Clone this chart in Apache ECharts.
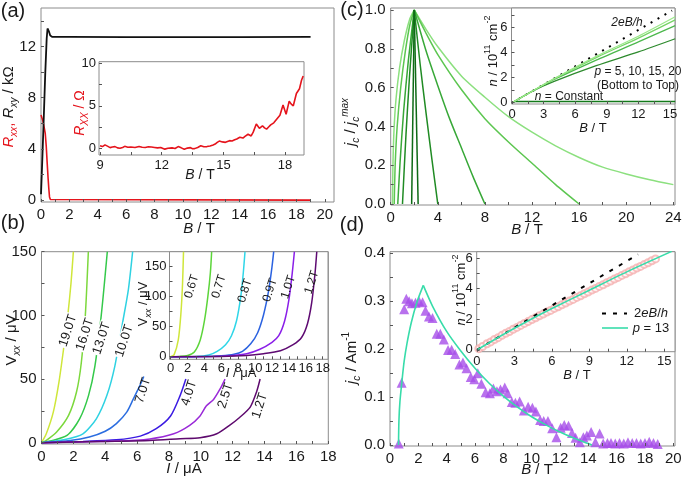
<!DOCTYPE html>
<html>
<head>
<meta charset="utf-8">
<script src="https://cdn.jsdelivr.net/npm/echarts@6.0.0/dist/echarts.min.js"></script>
<style>
html,body{margin:0;padding:0;background:#ffffff;}
#chart{width:685px;height:483px;}
</style>
</head>
<body>
<div id="chart"></div>
<script>
// ================= DATA =================
// (a) main: B (T) vs resistance (kOhm)
const aRxy = [[0.0,0.45],[0.1,3.4],[0.2,6.6],[0.3,9.9],[0.4,12.6],[0.46,13.4],[0.55,13.2],[0.65,12.85],[0.8,12.74],[2,12.74],[6,12.73],[10,12.72],[14,12.72],[19,12.74]];
const aRxx = [[0.0,6.65],[0.07,6.4],[0.14,6.15],[0.22,5.7],[0.3,5.2],[0.37,4.2],[0.43,3.0],[0.5,1.7],[0.55,0.9],[0.6,0.25],[0.66,0.05],[0.8,0.0],[19,0.0]];
// (a) inset: B (T) vs Rxx (Ohm)
const aInsetRxx = [[9.0,0.3],[9.12,0.2],[9.24,0.4],[9.36,0.25],[9.49,0.08],[9.6,0.15],[9.73,0.2],[9.85,0.05],[9.97,0.0],[10.1,0.1],[10.2,0.23],[10.35,0.12],[10.5,0.15],[10.7,0.1],[10.9,0.2],[11.05,0.12],[11.2,0.1],[11.35,0.18],[11.5,0.15],[11.65,0.1],[11.8,0.05],[11.95,0.1],[12.15,-0.1],[12.3,0.0],[12.5,0.05],[12.65,-0.02],[12.8,0.2],[12.95,0.05],[13.1,-0.12],[13.25,0.02],[13.4,0.08],[13.5,-0.05],[13.6,-0.04],[13.75,0.1],[13.9,0.3],[14.05,0.18],[14.2,0.2],[14.35,0.28],[14.5,0.4],[14.6,0.5],[14.7,0.7],[14.8,0.85],[14.95,0.75],[15.1,0.7],[15.2,0.8],[15.3,0.9],[15.42,0.85],[15.55,1.0],[15.65,1.1],[15.8,1.3],[15.95,1.2],[16.05,1.4],[16.2,1.65],[16.35,1.45],[16.45,1.9],[16.6,2.85],[16.75,2.35],[16.9,2.65],[17.0,2.4],[17.1,2.25],[17.2,2.5],[17.3,2.75],[17.45,3.0],[17.6,3.45],[17.75,3.9],[17.9,5.1],[18.05,4.0],[18.2,5.55],[18.3,5.2],[18.4,5.0],[18.55,6.45],[18.7,7.0],[18.8,8.0],[18.88,8.5]];

// (b) main: I (uA) vs Vxx (uV)
const bNames = ['19.0T','16.0T','13.0T','10.0T','7.0T','4.0T','2.5T','1.2T'];
const b19 = [[0,0],[0.3,7],[0.74,24],[1.1,48],[1.4,75],[1.65,100],[1.85,125],[2.0,150]];
const b16 = [[0,0],[0.35,2.3],[0.95,8.4],[1.7,21.5],[2.2,40],[2.5,63],[2.75,100],[2.94,150]];
const b13 = [[0,0],[0.55,1.3],[1.6,5.7],[2.4,19],[2.95,37],[3.35,60],[3.75,100],[4.13,150]];
const b10 = [[0,0],[1.4,2.3],[2.6,7],[3.45,19],[4.1,37],[4.6,60],[5.1,95],[5.45,120],[5.72,150]];
const b7 = [[0,0],[1.8,1.8],[3.0,4.5],[4.0,9],[4.7,15],[5.35,24],[5.75,34],[6.18,45],[6.42,52]];
const b4 = [[0,0],[2.6,1],[4.7,2.3],[6.2,5.2],[7.2,11],[8.1,21],[8.7,37],[9.06,50]];
const b25 = [[0,0],[4.7,1.3],[6.8,3],[8.3,7],[9.3,13.6],[9.95,21],[10.35,29],[10.8,34],[11.2,42],[11.52,50]];
const b12 = [[0,0],[3.7,1],[6.8,1.8],[8.7,3.1],[9.95,3.9],[11.0,7],[11.8,13.6],[12.45,20],[13.1,28],[13.5,40],[13.72,50]];
// (b) inset
const biNames = ['0.6T','0.7T','0.8T','0.9T','1.0T','1.2T'];
const bi06 = [[0,0],[0.4,3],[0.9,28],[1.2,70],[1.4,120],[1.52,175]];
const bi07 = [[0,0],[1.0,0.5],[2.0,2],[2.8,8],[3.5,28],[4.0,60],[4.4,100],[4.7,140],[4.85,175]];
const bi08 = [[0,0],[3.0,0.5],[4.5,3],[5.5,9],[6.5,20],[7.2,35],[7.8,60],[8.3,100],[8.6,140],[8.8,175]];
const bi09 = [[0,0],[4.0,0.3],[6.0,1.5],[7.5,4],[8.5,9],[9.5,22],[10.3,40],[11.0,70],[11.6,110],[12.0,150],[12.2,175]];
const bi10 = [[0,0],[5.0,0.3],[7.0,1.5],[9.0,5],[10.5,12],[12.0,24],[12.8,35],[13.5,60],[14.0,95],[14.4,140],[14.65,175]];
const bi12 = [[0,0],[6.0,0.5],[9.0,2],[11.0,5],[13.0,10],[14.5,20],[15.5,32],[16.2,55],[16.7,90],[17.1,140],[17.3,175]];

// (c) main: B (T) vs jc/jcmax, rising (L) and falling (R) branches
const cA_L = [[1.78,0],[2.0,1.0]];
const cA_R = [[2.0,1.0],[2.33,0]];
const cB_L = [[1.0,0],[1.3,0.36],[1.6,0.66],[2.0,1.0]];
const cB_R = [[2.0,1.0],[2.5,0.72],[3.0,0.47],[3.5,0.23],[4.0,0]];
const cC_L = [[0.6,0],[0.8,0.22],[1.1,0.48],[1.5,0.74],[2.0,1.0]];
const cC_R = [[2.0,1.0],[3,0.79],[4,0.61],[5,0.44],[6,0.29],[7,0.14],[8,0]];
const cD_L = [[0.3,0],[0.38,0.2],[0.55,0.4],[0.85,0.6],[1.25,0.79],[1.65,0.93],[2.0,1.0]];
const cD_R = [[2.0,1.0],[3,0.88],[4,0.77],[6,0.59],[8,0.44],[10,0.32],[12,0.21],[14,0.1],[16,0]];
const cE_L = [[0.15,0],[0.19,0.2],[0.28,0.38],[0.45,0.54],[0.75,0.7],[1.15,0.84],[1.6,0.95],[2.0,1.0]];
const cE_R = [[2.0,1.0],[3,0.9],[4,0.81],[6,0.66],[8,0.55],[10,0.45],[12,0.37],[14,0.3],[16,0.24],[18,0.19],[20,0.155],[22,0.125],[24,0.1]];
// (c) inset: B (T) vs n (1e11 cm^-2)
const ci2eBh = [[0,0],[15.2,7.35]];
const ciConst = [[0,0],[0.3,0.1],[15.5,0.1]];
const ciP5 = [[0,0],[2,0.95],[4,1.7],[8,2.95],[12,4.05],[15.5,5.1]];
const ciP10 = [[0,0],[2,0.96],[4,1.85],[8,3.4],[12,4.85],[15.5,6.15]];
const ciP15 = [[0,0],[2,0.96],[4,1.9],[8,3.6],[12,5.15],[15.5,6.6]];
const ciP20 = [[0,0],[2,0.96],[4,1.92],[8,3.7],[12,5.3],[15.5,6.85]];

// (d) main: B (T) vs jc (A/m)
const dTri = [[0.62,0.003],[0.82,0.13],[1.0,0.283],[1.15,0.305],[1.35,0.3],[1.55,0.296],[1.8,0.297],[2.05,0.3],[2.3,0.298],[2.5,0.28],[2.75,0.268],[3.0,0.265],[3.3,0.232],[3.55,0.232],[3.8,0.22],[4.1,0.198],[4.35,0.199],[4.6,0.19],[4.9,0.168],[5.15,0.172],[5.4,0.16],[5.7,0.142],[5.95,0.137],[6.2,0.15],[6.45,0.128],[6.75,0.11],[7.05,0.108],[7.3,0.118],[7.55,0.112],[7.8,0.116],[8.1,0.12],[8.3,0.108],[8.6,0.09],[8.85,0.088],[9.15,0.091],[9.45,0.072],[9.75,0.08],[10.05,0.078],[10.3,0.07],[10.6,0.052],[10.85,0.05],[11.15,0.05],[11.45,0.035],[11.75,0.016],[12.05,0.036],[12.3,0.042],[12.6,0.04],[12.85,0.025],[13.1,0.015],[13.4,0.006],[13.65,0.016],[13.9,0.02],[14.2,0.027],[14.5,0.006],[14.8,0.024],[15.05,0.003],[15.35,0.004],[15.6,0.004],[15.9,0.003],[16.2,0.004],[16.5,0.003],[16.8,0.006],[17.1,0.004],[17.4,0.004],[17.7,0.003],[18.0,0.004],[18.3,0.007],[18.6,0.004],[18.9,0.002]];
const dFit_L = [[0.6,0],[0.63,0.05],[0.7,0.09],[0.85,0.135],[1.0,0.175],[1.2,0.212],[1.5,0.255],[1.9,0.298],[2.35,0.333]];
const dFit_R = [[2.35,0.333],[3,0.29],[4,0.237],[5,0.196],[6,0.16],[7,0.129],[8,0.102],[9,0.079],[10,0.059],[11,0.042],[12,0.027],[13,0.014],[14,0.003],[14.25,0]];
// (d) inset
const di2eBh = [[0,0],[12.9,6.24]];
const diP13 = [[0,0],[2,0.96],[4,1.86],[6,2.7],[9,3.9],[12,5.1],[15.6,6.44]];
const diExp = [[0.15,0.08],[0.45,0.22],[0.8,0.4],[1.1,0.52],[1.4,0.68],[1.7,0.8],[2.0,0.95],[2.3,1.08],[2.6,1.2],[2.9,1.35],[3.2,1.47],[3.5,1.6],[3.8,1.73],[4.1,1.85],[4.4,1.98],[4.7,2.1],[5.0,2.23],[5.3,2.34],[5.6,2.47],[5.9,2.58],[6.2,2.71],[6.5,2.82],[6.8,2.95],[7.1,3.06],[7.4,3.19],[7.7,3.3],[8.0,3.43],[8.3,3.54],[8.6,3.67],[8.9,3.78],[9.2,3.91],[9.5,4.02],[9.8,4.15],[10.1,4.26],[10.4,4.39],[10.7,4.5],[11.0,4.63],[11.3,4.74],[11.6,4.87],[11.9,4.98],[12.2,5.11],[12.5,5.22],[12.8,5.35],[13.1,5.46],[13.4,5.59],[13.7,5.7],[14.0,5.83],[14.3,5.95]];

// tick labels / tick marks
const aXLab = [0,2,4,6,8,10,12,14,16,18,20], aXTk = [0,1,2,3,4,5,6,7,8,9,10,11,12,13,14,15,16,17,18,19,20];
const aYLab = [0,4,8,12], aYTk = [0,2,4,6,8,10,12,14];
const aiXLab = [9,12,15,18], aiXTk = [9,10.5,12,13.5,15,16.5,18];
const aiYLab = [0,5,10], aiYTk = [0,2.5,5,7.5,10];
const bXLab = [0,2,4,6,8,10,12,14,16,18], bXTk = [0,1,2,3,4,5,6,7,8,9,10,11,12,13,14,15,16,17,18];
const bYLab = [0,50,100,150], bYTk = [0,25,50,75,100,125,150];
const biXLab = [0,2,4,6,8,10,12,14,16,18], biXTk = [0,1,2,3,4,5,6,7,8,9,10,11,12,13,14,15,16,17,18];
const biYLab = [0,50,100,150], biYTk = [0,25,50,75,100,125,150];
const cXLab = [0,4,8,12,16,20,24], cXTk = [0,2,4,6,8,10,12,14,16,18,20,22,24];
const cYLab = [0,0.2,0.4,0.6,0.8,1.0], cYTk = [0,0.1,0.2,0.3,0.4,0.5,0.6,0.7,0.8,0.9,1.0];
const ciXLab = [0,3,6,9,12,15], ciXTk = [0,1.5,3,4.5,6,7.5,9,10.5,12,13.5,15];
const ciYLab = [0,2,4,6], ciYTk = [0,1,2,3,4,5,6,7];
const dXLab = [0,2,4,6,8,10,12,14,16,18,20], dXTk = [0,1,2,3,4,5,6,7,8,9,10,11,12,13,14,15,16,17,18,19,20];
const dYLab = [0,0.1,0.2,0.3,0.4], dYTk = [0,0.05,0.1,0.15,0.2,0.25,0.3,0.35,0.4];
const diXLab = [0,3,6,9,12,15], diXTk = [0,1.5,3,4.5,6,7.5,9,10.5,12,13.5,15];
const diYLab = [0,2,4,6], diYTk = [0,1,2,3,4,5,6];

// ================= STYLE / LAYOUT =================
const FONT = '"Liberation Sans", Arial, Helvetica, sans-serif';
const FRAME = '#8c8c8c';
const RED = '#e5141c';
const bCol = ['#cfe63a','#7cd83c','#34c94a','#2fd2e2','#2b6de0','#3a1ae2','#9a2ad8','#5e0a6e'];
const biCol = ['#cfe63a','#5cd53a','#2fd6e8','#2b62e0','#8a1ee8','#5e0a72'];
const cCol = ['#0e6b16','#208b24','#38a838','#5cc650','#8ce07f'];
const ciCol = {c:'#137a1a', p5:'#2e8b2e', p10:'#4cb84c', p15:'#76d466', p20:'#9be88a'};
const TEAL = '#38dcaa';
const PURP = '#a64ee8';

function mkGrid(l,t,w,h){ return {left:l, top:t, width:w, height:h, show:true, borderColor:FRAME, borderWidth:1, backgroundColor:'#ffffff', containLabel:false, outerBoundsMode:'none'}; }
function mkAxis(gi, min, max, labs, tks, fs, margin, fmt){
  return {type:'value', gridIndex:gi, min:min, max:max,
    splitLine:{show:false}, axisLine:{show:false, onZero:false},
    axisTick:{show:true, inside:true, length:3, lineStyle:{color:'#555', width:1}, customValues:tks},
    axisLabel:{show:true, customValues:labs, fontSize:fs, fontFamily:FONT, color:'#1a1a1a', margin:margin, formatter: fmt || function(v){return String(v);}},
    z: 5};
}
function ln(gi, data, color, w, extra){
  return Object.assign({type:'line', xAxisIndex:gi, yAxisIndex:gi, data:data, symbol:'none', showSymbol:false,
    lineStyle:{color:color, width:w}, itemStyle:{color:color}, silent:true, animation:false, z:3}, extra||{});
}
const f1 = function(v){ return v.toFixed(1); };

const grids = [
  mkGrid(41, 8, 293, 194),        // 0 (a) main
  mkGrid(99, 61.7, 205, 93.3),    // 1 (a) inset
  mkGrid(41.5, 251.7, 286.8, 192.3), // 2 (b) main
  mkGrid(169.5, 251.7, 158.5, 107.6),// 3 (b) inset
  mkGrid(390.7, 8, 284.3, 197),   // 4 (c) main
  mkGrid(511.5, 8, 163.5, 96),    // 5 (c) inset
  mkGrid(390, 251.7, 285, 194.3), // 6 (d) main
  mkGrid(476.7, 251.7, 198.3, 100) // 7 (d) inset
];
const xAxes = [
  mkAxis(0, 0, 20.65, aXLab, aXTk, 15, 5),
  mkAxis(1, 8.95, 18.92, aiXLab, aiXTk, 13, 4),
  mkAxis(2, 0, 18, bXLab, bXTk, 15, 5),
  mkAxis(3, -0.14, 18.63, biXLab, biXTk, 13, 3),
  mkAxis(4, 0, 24.14, cXLab, cXTk, 15, 5),
  mkAxis(5, -0.05, 15.48, ciXLab, ciXTk, 13, 4),
  mkAxis(6, 0, 20.12, dXLab, dXTk, 15, 5),
  mkAxis(7, -0.02, 15.86, diXLab, diXTk, 13, 3)
];
const yAxes = [
  mkAxis(0, -0.15, 15, aYLab, aYTk, 15, 5),
  mkAxis(1, -0.79, 10.19, aiYLab, aiYTk, 13, 3),
  mkAxis(2, -1, 150, bYLab, bYTk, 15, 5),
  mkAxis(3, -4.3, 175, biYLab, biYTk, 13, 3),
  mkAxis(4, -0.005, 1.01, cYLab, cYTk, 15, 5, f1),
  mkAxis(5, -0.1, 7.55, ciYLab, ciYTk, 13, 4),
  mkAxis(6, -0.002, 0.4033, dYLab, dYTk, 15, 5, f1),
  mkAxis(7, -0.12, 6.42, diYLab, diYTk, 13, 4)
];

const sm = {smooth:0.25};
const series = [
  ln(0, aRxx, RED, 1.6), ln(0, aRxy, '#111111', 1.8),
  ln(1, aInsetRxx, RED, 1.6),
  ln(2, b19, bCol[0], 1.5, sm), ln(2, b16, bCol[1], 1.5, sm), ln(2, b13, bCol[2], 1.5, sm), ln(2, b10, bCol[3], 1.5, sm),
  ln(2, b7, bCol[4], 1.5, sm), ln(2, b4, bCol[5], 1.5, sm), ln(2, b25, bCol[6], 1.5, sm), ln(2, b12, bCol[7], 1.5, sm),
  ln(3, bi06, biCol[0], 1.5, sm), ln(3, bi07, biCol[1], 1.5, sm), ln(3, bi08, biCol[2], 1.5, sm),
  ln(3, bi09, biCol[3], 1.5, sm), ln(3, bi10, biCol[4], 1.5, sm), ln(3, bi12, biCol[5], 1.5, sm),
  ln(4, cE_L, cCol[4], 1.5, sm), ln(4, cE_R, cCol[4], 1.5, sm),
  ln(4, cD_L, cCol[3], 1.5, sm), ln(4, cD_R, cCol[3], 1.5, sm),
  ln(4, cC_L, cCol[2], 1.5, sm), ln(4, cC_R, cCol[2], 1.5, sm),
  ln(4, cB_L, cCol[1], 1.5, sm), ln(4, cB_R, cCol[1], 1.5, sm),
  ln(4, cA_L, cCol[0], 1.5), ln(4, cA_R, cCol[0], 1.5),
  ln(5, ci2eBh, '#000000', 2, {lineStyle:{color:'#000', width:2, type:[2,6], cap:'butt'}}),
  ln(5, ciConst, ciCol.c, 1.3), ln(5, ciP5, ciCol.p5, 1.3, sm), ln(5, ciP10, ciCol.p10, 1.3, sm),
  ln(5, ciP15, ciCol.p15, 1.3, sm), ln(5, ciP20, ciCol.p20, 1.3, sm),
  {type:'scatter', xAxisIndex:6, yAxisIndex:6, data:dTri, symbol:'triangle', symbolSize:10, itemStyle:{color:PURP}, silent:true, animation:false, z:2},
  ln(6, dFit_L, TEAL, 1.6, sm), ln(6, dFit_R, TEAL, 1.6, sm),
  {type:'scatter', xAxisIndex:7, yAxisIndex:7, data:diExp, symbol:'emptyCircle', symbolSize:7, itemStyle:{color:'#f5b0b0', borderColor:'#f5b0b0', borderWidth:1}, silent:true, animation:false, z:2},
  ln(7, di2eBh, '#000000', 2, {lineStyle:{color:'#000', width:2, type:[4,7], cap:'butt'}}),
  ln(7, diP13, TEAL, 1.6, sm)
];

// ================= TEXT =================
function rich(fs, col){
  const sub = Math.round(fs*0.68);
  return {
    n:{fontSize:fs, fontFamily:FONT, fill:col, lineHeight:fs+6},
    i:{fontSize:fs, fontFamily:FONT, fill:col, fontStyle:'italic', lineHeight:fs+6},
    s:{fontSize:sub, fontFamily:FONT, fill:col, fontStyle:'italic', lineHeight:sub, verticalAlign:'bottom'},
    su:{fontSize:sub, fontFamily:FONT, fill:col, lineHeight:sub, verticalAlign:'top'},
    sui:{fontSize:sub, fontFamily:FONT, fill:col, fontStyle:'italic', lineHeight:sub, verticalAlign:'top'},
    rn:{fontSize:fs, fontFamily:FONT, fill:RED, lineHeight:fs+6},
    ri:{fontSize:fs, fontFamily:FONT, fill:RED, fontStyle:'italic', lineHeight:fs+6},
    rs:{fontSize:sub, fontFamily:FONT, fill:RED, fontStyle:'italic', lineHeight:sub, verticalAlign:'bottom'}
  };
}
function T(x, y, text, fs, rot, extra){
  return Object.assign({type:'text', x:x, y:y, rotation: rot ? rot*Math.PI/180 : 0, z:100, silent:true,
    style:{text:text, rich:rich(fs,'#1a1a1a'), fontSize:fs, fontFamily:FONT, fill:'#1a1a1a', align:'center', verticalAlign:'middle'}}, extra||{});
}
const staticText = [
  T(13, 11, '{n|(a)}', 20), T(13, 223, '{n|(b)}', 20), T(352, 10, '{n|(c)}', 20), T(352, 225, '{n|(d)}', 20),
  // (a)
  T(9, 107, '{ri|R}{rs|xx}{rn|, }{i|R}{s|xy}{n| / kΩ}', 15, 90),
  T(199, 229, '{i|B}{n| / T}', 15),
  T(80, 113, '{ri|R}{rs|XX}{rn| / Ω}', 14, 90),
  T(200, 175, '{i|B}{n| / T}', 14),
  // (b)
  T(12, 340, '{n|V}{s|xx}{n| / μV}', 15, 90),
  T(184, 469, '{i|I}{n| / μA}', 15),
  T(143, 304, '{n|V}{s|xx}{n| / μV}', 13, 90),
  T(241, 373, '{i|I}{n| / μA}', 13),
  // (c)
  T(351, 122, '{i|j}{s|c}{n| / }{i|j}{s|c}{sui|max}', 15, 90),
  T(527, 230, '{i|B}{n| / T}', 15),
  T(493, 51, '{i|n}{n| / 10}{su|11}{n| cm}{su|-2}', 13, 90),
  T(593, 128, '{i|B}{n| / T}', 13),
  T(627, 23, '{i|2eB/h}', 12),
  T(638, 72, '{i|p}{n| = 5, 10, 15, 20}', 12),
  T(638, 86, '{n|(Bottom to Top)}', 12),
  T(569, 97, '{i|n}{n| = Constant}', 12),
  // (d)
  T(352, 358, '{i|j}{s|c}{n| / Am}{su|-1}', 15, 90),
  T(537, 470, '{i|B}{n| / T}', 15),
  T(461, 290, '{i|n}{n| / 10}{su|11}{n| cm}{su|-2}', 13, 90),
  T(577, 375, '{i|B}{n| / T}', 13),
  T(651, 313, '{n|2}{i|eB}{n|/}{i|h}', 13),
  T(651, 328, '{i|p}{n| = 13}', 13),
  {type:'line', z:100, silent:true, shape:{x1:602, y1:313.5, x2:627, y2:313.5}, style:{stroke:'#000', lineWidth:2, lineDash:[4,7]}},
  {type:'line', z:100, silent:true, shape:{x1:602, y1:328, x2:628, y2:328}, style:{stroke:TEAL, lineWidth:1.6}}
];

// curve labels in data coordinates: [text, gridIndex, x, y, fontSize, whiteBackground]
const curveLabels = [
  ['19.0T',2,1.66,88,13,1], ['16.0T',2,2.73,85,13,1], ['13.0T',2,3.78,82,13,1], ['10.0T',2,5.2,80,13,1],
  ['7.0T',2,6.37,41,13,0], ['4.0T',2,9.26,39,13,0], ['2.5T',2,11.55,37,13,0], ['1.2T',2,13.7,29,13,0],
  ['0.6T',3,2.49,117,12,0], ['0.7T',3,5.72,117,12,0], ['0.8T',3,8.8,110,12,0], ['0.9T',3,11.77,111,12,0], ['1.0T',3,13.93,116,12,0], ['1.2T',3,16.7,124,12,0]
];

const chart = echarts.init(document.getElementById('chart'), null, {renderer:'canvas', width:685, height:483});
chart.setOption({animation:false, backgroundColor:'#ffffff', grid:grids, xAxis:xAxes, yAxis:yAxes, series:series});
const labelEls = curveLabels.map(function(l){
  const p = chart.convertToPixel({gridIndex:l[1]}, [l[2], l[3]]);
  const st = {text:l[0], fontSize:l[4], fontFamily:FONT, fill:'#1a1a1a', align:'center', verticalAlign:'middle'};
  if (l[5]) { st.backgroundColor = '#ffffff'; st.padding = [0,1]; }
  return {type:'text', x:p[0], y:p[1], rotation:72*Math.PI/180, z:90, silent:true, style:st};
});
chart.setOption({graphic: staticText.concat(labelEls)});
</script>
</body>
</html>
